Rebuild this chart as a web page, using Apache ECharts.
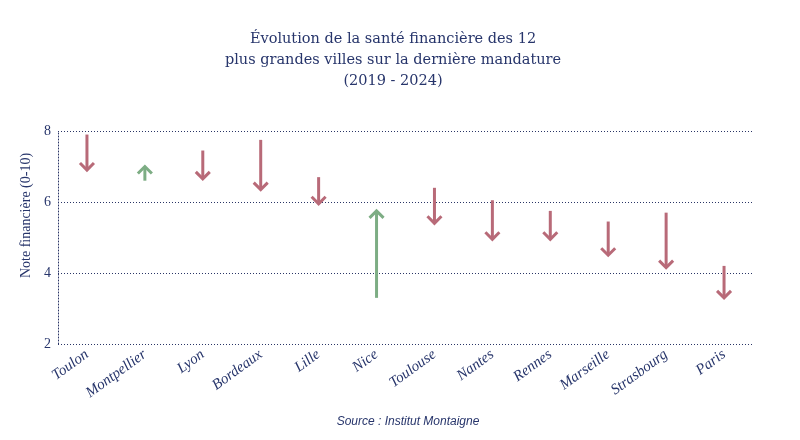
<!DOCTYPE html>
<html>
<head>
<meta charset="utf-8">
<script src="https://cdn.jsdelivr.net/npm/echarts@6/dist/echarts.min.js"></script>
<style>
  html, body { margin: 0; padding: 0; background: #fff; }
  #chart { width: 800px; height: 440px; }
</style>
</head>
<body>
<div id="chart"></div>
<script>
// villes, note 2019 -> note 2024
const villes = ['Toulon', 'Montpellier', 'Lyon', 'Bordeaux', 'Lille', 'Nice', 'Toulouse', 'Nantes', 'Rennes', 'Marseille', 'Strasbourg', 'Paris'];
const note2019 = [7.9, 6.6, 7.45, 7.75, 6.7, 3.3, 6.4, 6.05, 5.75, 5.45, 5.7, 4.2];
const note2024 = [6.9, 7.0, 6.65, 6.35, 5.95, 5.75, 5.4, 4.95, 4.95, 4.5, 4.15, 3.3];
const yTicks = [2, 4, 6, 8];

const navy = '#27356b';
const rouge = '#b86a78';
const vert = '#7dad84';
const serif = '"Liberation Serif", "DejaVu Serif", serif';
const pointille = { color: '#2a3566', type: [1, 2], width: 1 };

const data = villes.map((v, i) => [i, note2019[i], note2024[i]]);

function renderArrow(params, api) {
  const i = api.value(0);
  const a = api.value(1);
  const b = api.value(2);
  const p0 = api.coord([i, a]);
  const p1 = api.coord([i, b]);
  const dir = p1[1] > p0[1] ? 1 : -1;
  const h = 7;
  const color = b < a ? rouge : vert;
  const style = { stroke: color, lineWidth: 3, fill: null, lineJoin: 'miter' };
  return {
    type: 'group',
    children: [
      { type: 'line', shape: { x1: p0[0], y1: p0[1], x2: p1[0], y2: p1[1] - dir * 1 }, style: style },
      { type: 'polyline', shape: { points: [[p1[0] - h, p1[1] - dir * h], [p1[0], p1[1]], [p1[0] + h, p1[1] - dir * h]] }, style: style }
    ]
  };
}

const option = {
  backgroundColor: '#fff',
  title: [{
    text: 'Évolution de la santé financière des 12\nplus grandes villes sur la dernière mandature\n(2019 - 2024)',
    left: 388,
    top: 24,
    textAlign: 'center',
    textStyle: { fontFamily: '"DejaVu Serif", serif', fontWeight: 'normal', fontSize: 14.5, color: navy, lineHeight: 21, align: 'center' }
  }, {
    text: 'Source : Institut Montaigne',
    left: 403,
    top: 411,
    textAlign: 'center',
    textStyle: { fontFamily: '"Liberation Sans Narrow", "Liberation Sans", sans-serif', fontStyle: 'italic', fontWeight: 'normal', fontSize: 12, color: navy }
  }],
  grid: { left: 58, right: 47, top: 131, bottom: 96 },
  xAxis: {
    type: 'category',
    data: villes,
    axisLine: { show: false },
    axisTick: { show: false },
    axisLabel: { rotate: 36, fontFamily: serif, fontStyle: 'italic', fontSize: 15, color: navy, margin: 9, interval: 0 }
  },
  yAxis: {
    type: 'value',
    min: yTicks[0],
    max: yTicks[yTicks.length - 1],
    interval: 2,
    name: 'Note financière (0-10)',
    nameLocation: 'middle',
    nameGap: 21,
    nameTextStyle: { fontFamily: serif, fontSize: 14, color: navy, padding: [0, 0, 0, 44] },
    axisLine: { show: true, lineStyle: pointille },
    axisTick: { show: false },
    axisLabel: { fontFamily: serif, fontSize: 14, color: navy, margin: 7 },
    splitLine: { show: true, lineStyle: pointille }
  },
  series: [{
    type: 'custom',
    renderItem: renderArrow,
    encode: { x: 0, y: [1, 2] },
    data: data,
    silent: true
  }]
};

const chart = echarts.init(document.getElementById('chart'));
chart.setOption(option);
window.addEventListener('resize', function () { chart.resize(); });
</script>
</body>
</html>
